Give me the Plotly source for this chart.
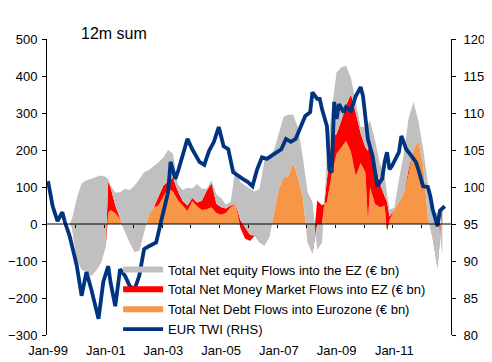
import plotly.graph_objects as go

# ---- data (12m sums, EUR bn) ----
area_dates = ["1999-10", "1999-11", "2000-01", "2000-03", "2000-05", "2000-07", "2000-09", "2000-11",
              "2001-01", "2001-02", "2001-03", "2001-05", "2001-07", "2001-09", "2001-11",
              "2002-01", "2002-03", "2002-05", "2002-07", "2002-09", "2002-11",
              "2003-01", "2003-03", "2003-05", "2003-07", "2003-09", "2003-11",
              "2004-01", "2004-03", "2004-05", "2004-07", "2004-09", "2004-11",
              "2005-01", "2005-03", "2005-05", "2005-07", "2005-09", "2005-11",
              "2006-01", "2006-03", "2006-05", "2006-07", "2006-09", "2006-11",
              "2007-01", "2007-03", "2007-05", "2007-07", "2007-09", "2007-11",
              "2008-01", "2008-03", "2008-05", "2008-07", "2008-09", "2008-11",
              "2009-01", "2009-03", "2009-05", "2009-07", "2009-09", "2009-11",
              "2010-01", "2010-02", "2010-03", "2010-05", "2010-07", "2010-09", "2010-10", "2010-11",
              "2011-01", "2011-03", "2011-05", "2011-07", "2011-09", "2011-11",
              "2012-01", "2012-03", "2012-05", "2012-07", "2012-09"]

debt_flows = [0, -10, -95, -122, -130, -140, -125, -105,
              -60, 30, 38, 30, 12, -20, -50,
              -75, -72, -20, 25, 45, 50,
              75, 95, 88, 65, 50, 35,
              62, 48, 38, 40, 45, 30,
              25, 30, 45, 55, -10, -40,
              -45, -32, -50, -58, -35, 30,
              95, 125, 130, 165, 125, 70,
              -50, -80, 63, 50, 60, 135,
              190, 207, 225, 195, 130, 165,
              140, 9, 99, 55, 45, 50, -18, 10,
              38, 60, 81, 135, 200, 225,
              160, 20, -40, -120, 55]

money_market_flows = [0, 0, 0, 0, 0, 0, 0, 0,
                      0, 85, 62, 20, 3, 0, 0,
                      0, 0, 0, 0, 0, 25,
                      29, 20, 37, 25, 12, 15,
                      8, 10, 25, 50, 65, 25,
                      20, 12, 5, 0, 20, 30,
                      15, 0, 0, 0, 0, 0,
                      0, 0, 0, 0, 0, 0,
                      0, 0, -63, -50, 60, 99,
                      53, 72, 95, 156, 170, 80,
                      67, 189, 126, 110, 65, 25, 78, 10,
                      0, 0, 0, 12, 0, 0,
                      0, 0, 0, 0, -20]

equity_flows = [0, 25, 165, 232, 248, 262, 252, 236,
                188, 5, 5, 35, 71, 115, 142,
                179, 192, 160, 121, 112, 92,
                76, 85, 65, 18, 30, 48,
                26, 50, 32, 5, 8, 25,
                25, 10, 10, 95, 103, 114,
                125, 120, 145, 228, 218, 170,
                150, 165, 165, 130, 135, 110,
                135, 140, -70, -50, 65, 76,
                167, 144, 108, 44, 30, 17,
                55, 72, 54, 63, 55, 60, 21, 20,
                5, 60, 108, 138, 130, 55,
                45, 90, 70, 150, -120]

twi_dates = ["1999-01", "1999-03", "1999-05", "1999-07", "1999-08", "1999-10", "1999-12", "2000-01",
             "2000-03", "2000-05", "2000-07", "2000-10", "2000-12", "2001-02", "2001-03", "2001-05",
             "2001-07", "2001-09", "2001-11", "2002-01", "2002-03", "2002-05", "2002-07", "2002-10",
             "2002-12", "2003-03", "2003-04", "2003-06", "2003-07", "2003-09", "2003-11", "2004-01",
             "2004-03", "2004-04", "2004-06", "2004-08", "2004-10", "2004-12", "2005-02", "2005-04",
             "2005-06", "2005-08", "2005-10", "2005-12", "2006-02", "2006-04", "2006-06", "2006-08",
             "2006-10", "2006-12", "2007-02", "2007-04", "2007-06", "2007-08", "2007-10", "2007-12",
             "2008-02", "2008-03", "2008-05", "2008-06", "2008-07", "2008-09", "2008-10", "2008-11",
             "2008-12", "2009-01", "2009-02", "2009-04", "2009-05", "2009-07", "2009-09", "2009-11",
             "2009-12", "2010-01", "2010-02", "2010-04", "2010-05", "2010-06", "2010-08", "2010-09",
             "2010-10", "2010-11", "2010-12", "2011-01", "2011-03", "2011-04", "2011-06", "2011-07",
             "2011-08", "2011-10", "2011-11", "2012-01", "2012-03", "2012-04", "2012-05", "2012-07",
             "2012-08", "2012-10"]

eur_twi = [100.8, 97.4, 95.4, 96.6, 95.3, 93.4, 90.7, 89.3,
           85.3, 88.5, 86.2, 82.2, 87.2, 89.3, 87.2, 83.9,
           88.9, 88.0, 86.6, 86.2, 88.0, 91.6, 92.0, 92.5,
           95.3, 99.3, 103.4, 101.1, 102.0, 104.2, 106.5, 105.1,
           103.8, 103.4, 103.0, 104.9, 106.1, 108.1, 105.5, 105.1,
           102.0, 101.5, 101.1, 100.7, 100.1, 102.4, 104.0, 103.8,
           104.2, 104.7, 105.1, 106.5, 106.1, 106.5, 108.2, 109.6,
           110.1, 112.8, 111.9, 111.9, 110.5, 108.2, 102.4, 102.0,
           111.5, 109.2, 111.2, 110.1, 110.8, 110.3, 112.3, 113.5,
           112.3, 109.2, 106.5, 104.2, 102.4, 100.1, 101.1, 103.4,
           104.7, 102.4, 102.8, 103.4, 104.7, 106.9, 105.1, 104.7,
           104.2, 103.4, 102.4, 100.1, 100.0, 98.8, 97.0, 94.7,
           96.8, 97.4]

tick_dates = ["1999-01-01", "2001-01-01", "2003-01-01", "2005-01-01", "2007-01-01", "2009-01-01", "2011-01-01"]
tick_labels = ["Jan-99", "Jan-01", "Jan-03", "Jan-05", "Jan-07", "Jan-09", "Jan-11"]
year_tick_dates = ["1999-12-15", "2000-12-15", "2001-12-15", "2002-12-15", "2003-12-15", "2004-12-15",
                   "2005-12-15", "2006-12-15", "2007-12-15", "2008-12-15", "2009-12-15", "2010-12-15",
                   "2011-12-15"]

names = ["Total Net equity Flows into the EZ (€ bn)",
         "Total Net Money Market Flows into EZ (€ bn)",
         "Total Net Debt Flows into Eurozone (€ bn)",
         "EUR TWI (RHS)"]

FONT = "Arial, Liberation Sans, sans-serif"

fig = go.Figure()
fig.add_trace(go.Scatter(x=area_dates, y=debt_flows, name=names[2], stackgroup="flows",
                         mode="none", fillcolor="#F79646", legendrank=3))
fig.add_trace(go.Scatter(x=area_dates, y=money_market_flows, name=names[1], stackgroup="flows",
                         mode="none", fillcolor="#FF0000", legendrank=2))
fig.add_trace(go.Scatter(x=area_dates, y=equity_flows, name=names[0], stackgroup="flows",
                         mode="none", fillcolor="#C0C0C0", legendrank=1))
fig.add_trace(go.Scatter(x=twi_dates, y=eur_twi, name=names[3], yaxis="y2", mode="lines",
                         line=dict(color="#003380", width=3.8), legendrank=4))
# carrier (no visible marks) so the zero-line tick axis is drawn
fig.add_trace(go.Scatter(x=[tick_dates[0]], y=[0], xaxis="x2", yaxis="y", mode="markers",
                         marker=dict(opacity=0), showlegend=False, hoverinfo="skip"))

fig.add_shape(type="line", xref="paper", x0=0, x1=1, yref="y", y0=0, y1=0,
              line=dict(color="black", width=1), layer="above")

fig.add_annotation(text="12m sum", xref="paper", yref="paper", x=0.08, y=1.017,
                   xanchor="left", yanchor="middle", showarrow=False,
                   font=dict(family=FONT, size=16, color="black"))

# the page body has an 8px margin, so the figure is 8px smaller and its margins shifted
fig.update_layout(
    width=484, height=354,
    margin=dict(l=39, r=41, t=31, b=27, autoexpand=False),
    paper_bgcolor="white", plot_bgcolor="white",
    font=dict(family=FONT, size=13, color="black"),
    showlegend=True,
    legend=dict(x=0.176, y=0.272, xanchor="left", yanchor="top", bgcolor="rgba(0,0,0,0)",
                font=dict(family=FONT, size=13, color="black"), itemwidth=40,
                traceorder="normal", tracegroupgap=0),
    xaxis=dict(type="date", range=["1998-12-19", "2012-12-19"], tickvals=tick_dates,
               ticktext=tick_labels, showgrid=False, zeroline=False, showline=False,
               ticks="", ticklabelstandoff=6, tickfont=dict(size=13), automargin=False),
    xaxis2=dict(type="date", matches="x", overlaying="x", anchor="free", position=0.375,
                tickvals=year_tick_dates, ticks="outside", ticklen=3, tickcolor="black",
                showticklabels=False, showgrid=False, zeroline=False, showline=False,
                automargin=False),
    yaxis=dict(range=[-300, 500], dtick=100, showgrid=False, zeroline=False, showline=True,
               linecolor="black", linewidth=1, ticks="outside", ticklen=4, tickcolor="black",
               ticklabelstandoff=2, tickfont=dict(size=13), automargin=False),
    yaxis2=dict(range=[80, 120], dtick=5, overlaying="y", side="right", showgrid=False,
                zeroline=False, showline=True, linecolor="black", linewidth=1,
                ticks="outside", ticklen=4, tickcolor="black", ticklabelstandoff=5,
                tickfont=dict(size=13), automargin=False),
)

fig.write_html("out.html")
